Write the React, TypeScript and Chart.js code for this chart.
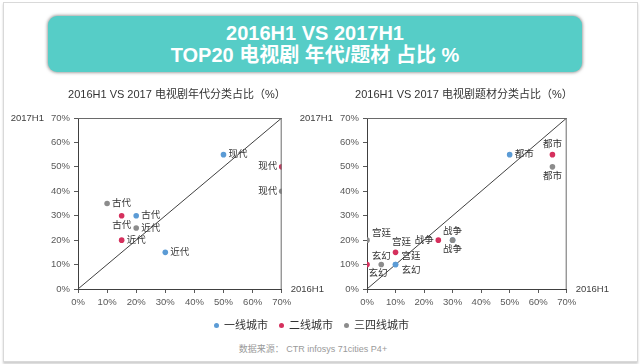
import React, { useEffect, useRef } from 'react';
import { Chart, registerables } from 'chart.js';

Chart.register(...registerables);

const FONT = "'Liberation Sans', 'Noto Sans CJK SC', sans-serif";

// ---- data ----
const tierNames = ['一线城市', '二线城市', '三四线城市'];
const tierColors = ['#5B9BD5', '#D5305D', '#8C8C8C'];

const eraTitle = '2016H1 VS 2017 电视剧年代分类占比（%）';
const eraCategories = ['现代', '古代', '近代'];
const eraTier1_2016 = [50, 20, 30];
const eraTier1_2017 = [55, 30, 15];
const eraTier2_2016 = [70, 15, 15];
const eraTier2_2017 = [50, 30, 20];
const eraTier3_2016 = [70, 10, 20];
const eraTier3_2017 = [40, 35, 25];

const genreTitle = '2016H1 VS 2017 电视剧题材分类占比（%）';
const genreCategories = ['都市', '宫廷', '玄幻', '战争'];
const genreTier1_2016 = [50, 10, 10, 30];
const genreTier1_2017 = [55, 10, 10, 20];
const genreTier2_2016 = [65, 10, 0, 25];
const genreTier2_2017 = [55, 15, 10, 20];
const genreTier3_2016 = [65, 0, 5, 30];
const genreTier3_2017 = [50, 20, 10, 20];

const axisTicks = [0, 10, 20, 30, 40, 50, 60, 70];
const xAxisName = '2016H1';
const yAxisName = '2017H1';

// ---- label placement (style) ----
type Place = [number, number, CanvasTextAlign];
const R: Place = [5, 0, 'left'];
const L: Place = [-4.5, 0, 'right'];
const eraPlaces: Place[][] = [
  [R, R, R],
  [L, [0, 9.5, 'center'], R],
  [L, R, R],
];
const genrePlaces: Place[][] = [
  [R, [6, -8, 'left'], [6, 6, 'left'], [0, -9, 'center']],
  [[0, -10, 'center'], [6, -9.5, 'center'], [11, 9, 'center'], L],
  [[0, 9.5, 'center'], [5, -7, 'left'], [0, -8.5, 'center'], [0, 9, 'center']],
];

const extrasPlugin = {
  id: 'extras',
  afterDatasetsDraw(chart: any) {
    const ctx = chart.ctx;
    const a = chart.chartArea;
    const o = chart.options.plugins.extras;
    ctx.save();
    // top & right frame
    ctx.strokeStyle = '#6a6a6a';
    ctx.lineWidth = 1;
    ctx.beginPath();
    ctx.moveTo(a.left, a.top + 0.5);
    ctx.lineTo(a.right, a.top + 0.5);
    ctx.moveTo(a.right - 0.5, a.top);
    ctx.lineTo(a.right - 0.5, a.bottom);
    ctx.stroke();
    // data labels
    ctx.font = `9.5px ${FONT}`;
    ctx.fillStyle = '#333333';
    ctx.textBaseline = 'middle';
    chart.data.datasets.forEach((ds: any, i: number) => {
      if (!ds.labels) return;
      const meta = chart.getDatasetMeta(i);
      meta.data.forEach((pt: any, j: number) => {
        const p = ds.places[j];
        ctx.textAlign = p[2];
        ctx.fillText(ds.labels[j], pt.x + p[0], pt.y + p[1]);
      });
    });
    // axis names
    ctx.fillStyle = '#404040';
    ctx.font = `9.5px ${FONT}`;
    ctx.textAlign = 'right';
    ctx.fillText(yAxisName, a.left - 34, a.top);
    ctx.textAlign = 'left';
    ctx.fillText(xAxisName, a.right + 9, a.bottom);
    // title
    ctx.font = `11px ${FONT}`;
    ctx.fillStyle = '#333333';
    ctx.textAlign = 'center';
    ctx.fillText(o.title, (a.left + a.right) / 2 - 3, a.top - 23);
    ctx.restore();
  },
};

function buildConfig(
  title: string,
  cats: string[],
  xs: number[][],
  ys: number[][],
  places: Place[][],
  yAxisWidth: number,
  padRight: number
): any {
  const tickCommon = {
    color: '#595959',
    font: { size: 9.5, family: FONT },
    padding: 4,
    autoSkip: false,
    maxRotation: 0,
    stepSize: 10,
    callback: (v: any) => v + '%',
  };
  const gridCommon = {
    drawOnChartArea: false,
    drawTicks: true,
    tickLength: 4,
    color: '#595959',
  };
  const datasets: any[] = [
    {
      type: 'line',
      data: [
        { x: axisTicks[0], y: axisTicks[0] },
        { x: axisTicks[axisTicks.length - 1], y: axisTicks[axisTicks.length - 1] },
      ],
      borderColor: '#404040',
      borderWidth: 1,
      pointRadius: 0,
      fill: false,
      order: 10,
    },
  ];
  xs.forEach((xv, t) => {
    datasets.push({
      type: 'scatter',
      label: tierNames[t],
      data: xv.map((x, j) => ({ x, y: ys[t][j] })),
      labels: cats,
      places: places[t],
      backgroundColor: tierColors[t],
      borderColor: tierColors[t],
      borderWidth: 0,
      pointRadius: 2.8,
      order: 3 - t,
    });
  });
  return {
    type: 'scatter',
    data: { datasets },
    options: {
      responsive: false,
      animation: false,
      events: [],
      layout: { padding: { left: 0, right: padRight, top: 38, bottom: 6 } },
      plugins: {
        legend: { display: false },
        tooltip: { enabled: false },
        title: { display: false },
        extras: { title },
      },
      scales: {
        x: {
          type: 'linear',
          min: axisTicks[0],
          max: axisTicks[axisTicks.length - 1],
          ticks: tickCommon,
          grid: gridCommon,
          border: { display: true, color: '#404040', width: 1 },
          afterFit: (s: any) => {
            s.height = 25;
            s.paddingLeft = 0;
            s.paddingRight = 0;
          },
        },
        y: {
          type: 'linear',
          min: axisTicks[0],
          max: axisTicks[axisTicks.length - 1],
          ticks: tickCommon,
          grid: gridCommon,
          border: { display: true, color: '#404040', width: 1 },
          afterFit: (s: any) => {
            s.width = yAxisWidth;
            s.paddingTop = 0;
            s.paddingBottom = 0;
          },
        },
      },
    },
    plugins: [extrasPlugin],
  };
}

export default function App() {
  const leftRef = useRef<HTMLCanvasElement>(null);
  const rightRef = useRef<HTMLCanvasElement>(null);

  useEffect(() => {
    Chart.defaults.font.family = FONT;
    const c1 = new Chart(
      leftRef.current!,
      buildConfig(
        eraTitle,
        eraCategories,
        [eraTier1_2016, eraTier2_2016, eraTier3_2016],
        [eraTier1_2017, eraTier2_2017, eraTier3_2017],
        eraPlaces,
        78,
        58.3
      )
    );
    const c2 = new Chart(
      rightRef.current!,
      buildConfig(
        genreTitle,
        genreCategories,
        [genreTier1_2016, genreTier2_2016, genreTier3_2016],
        [genreTier1_2017, genreTier2_2017, genreTier3_2017],
        genrePlaces,
        82,
        73.3
      )
    );
    return () => {
      c1.destroy();
      c2.destroy();
    };
  }, []);

  const legendX = [216, 281, 346];

  return (
    <div
      style={{
        position: 'fixed',
        left: 0,
        top: 0,
        width: 640,
        height: 364,
        background: '#ffffff',
        overflow: 'hidden',
        fontFamily: FONT,
      }}
    >
      <div
        style={{
          position: 'absolute',
          left: 3,
          top: 2,
          width: 633,
          height: 358,
          border: '1px solid #d9d9d9',
          boxShadow: '0 2px 2px #cfcfcf',
        }}
      />
      <div
        style={{
          position: 'absolute',
          left: 48,
          top: 16,
          width: 534,
          height: 56,
          borderRadius: 9,
          background: '#56CDC7',
          boxShadow: '0 0 3px 1px rgba(90,90,90,0.55)',
          color: '#ffffff',
          fontWeight: 'bold',
          fontSize: 20,
          textAlign: 'center',
          lineHeight: '22px',
        }}
      >
        <div style={{ position: 'absolute', left: 0, right: 0, top: 6 }}>2016H1 VS 2017H1</div>
        <div style={{ position: 'absolute', left: 0, right: 0, top: 28 }}>TOP20 电视剧 年代/题材 占比 %</div>
      </div>
      <canvas
        ref={rightRef}
        width={355}
        height={240}
        style={{ position: 'absolute', left: 285, top: 80, width: 355, height: 240 }}
      />
      <canvas
        ref={leftRef}
        width={340}
        height={240}
        style={{ position: 'absolute', left: 0, top: 80, width: 340, height: 240 }}
      />
      {tierNames.map((n, i) => (
        <React.Fragment key={n}>
          <div
            style={{
              position: 'absolute',
              left: legendX[i] - 2.5,
              top: 322.5,
              width: 5,
              height: 5,
              borderRadius: '50%',
              background: tierColors[i],
            }}
          />
          <div
            style={{
              position: 'absolute',
              left: legendX[i] + 8,
              top: 318,
              fontSize: 11,
              lineHeight: '14px',
              color: '#333333',
              whiteSpace: 'nowrap',
            }}
          >
            {n}
          </div>
        </React.Fragment>
      ))}
      <div
        style={{
          position: 'absolute',
          left: 0,
          width: 626,
          top: 343,
          textAlign: 'center',
          fontSize: 9,
          lineHeight: '12px',
          color: '#9a9a9a',
        }}
      >
        数据来源： CTR infosys 71cities P4+
      </div>
    </div>
  );
}
